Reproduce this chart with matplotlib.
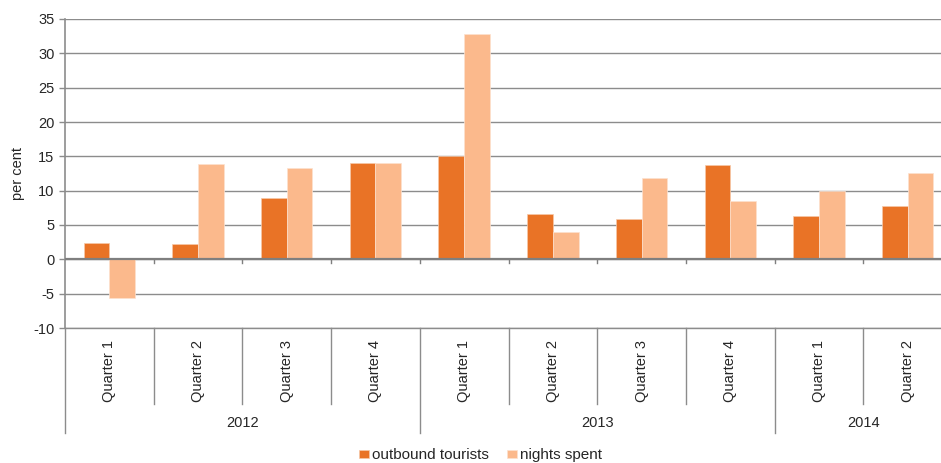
import numpy as np
import matplotlib.pyplot as plt
import matplotlib.transforms as mtransforms

plt.rcParams['font.family'] = ['Liberation Sans', 'DejaVu Sans']
plt.rcParams['axes.unicode_minus'] = False

# data
quarters = ['Quarter 1', 'Quarter 2', 'Quarter 3', 'Quarter 4',
            'Quarter 1', 'Quarter 2', 'Quarter 3', 'Quarter 4',
            'Quarter 1', 'Quarter 2']
years = ['2012', '2013', '2014']
quarters_per_year = [4, 4, 2]
outbound_tourists = [2.4, 2.3, 9.0, 14.1, 15.1, 6.6, 5.9, 13.7, 6.3, 7.8]
nights_spent = [-5.7, 13.9, 13.3, 14.0, 32.8, 4.0, 11.9, 8.5, 10.0, 12.5]

dark_orange = '#E97326'
light_orange = '#FBB98C'
grid_col = '#8C8C8C'
text_col = '#262626'
fs = 10.5

fig = plt.figure(figsize=(9.41, 4.63), dpi=100)
ax = fig.add_axes([65 / 941, 1 - 328 / 463, 887 / 941, 309 / 463])

x = np.arange(len(quarters))
w = 0.29
ax.bar(x - w / 2, outbound_tourists, w, color=dark_orange, edgecolor='#F7C9A8',
       linewidth=0.5, zorder=3, label='outbound tourists')
ax.bar(x + w / 2, nights_spent, w, color=light_orange, edgecolor='#FDE2CF',
       linewidth=0.5, zorder=3, label='nights spent')

ax.set_xlim(-0.5, len(quarters) - 0.5)
ax.set_ylim(-10, 35)
ax.set_yticks(np.arange(-10, 36, 5))
ax.yaxis.grid(True, color=grid_col, linewidth=1.0)
ax.set_axisbelow(True)
ax.set_xticks([])
ax.tick_params(axis='y', length=4, color=grid_col, labelsize=fs, labelcolor=text_col, width=1)
for s in ['top', 'right']:
    ax.spines[s].set_visible(False)
ax.spines['left'].set_color(grid_col)
ax.spines['bottom'].set_color(grid_col)
ax.spines['left'].set_linewidth(1.2)
ax.spines['bottom'].set_linewidth(1.0)
ax.set_ylabel('per cent', fontsize=fs, color=text_col, labelpad=6)

# zero line with small ticks at category boundaries
ax.axhline(0, color='#7F7F7F', linewidth=1.6, zorder=4)
bounds = np.arange(len(quarters) + 1) - 0.5
for b in bounds[1:]:
    ax.plot([b, b], [0, -0.5], color='#7F7F7F', linewidth=1.0, zorder=4, clip_on=False)

# multi-level category axis below the plot
trans = mtransforms.blended_transform_factory(ax.transData, ax.transAxes)
q_depth = -76 / 309
y_depth = -105 / 309
year_starts = np.concatenate([[0], np.cumsum(quarters_per_year)])
for b in bounds:
    depth = y_depth if (b + 0.5) in year_starts else q_depth
    ax.plot([b, b], [0, depth], color=grid_col, linewidth=1.0, transform=trans, clip_on=False)
for xi, q in zip(x, quarters):
    ax.text(xi, -12 / 309, q, rotation=90, ha='center', va='top', fontsize=fs,
            color=text_col, transform=trans)
for i, yr in enumerate(years):
    centre = (year_starts[i] + year_starts[i + 1]) / 2 - 0.5
    ax.text(centre, -95 / 309, yr, ha='center', va='center', fontsize=fs,
            color=text_col, transform=trans)

fig.legend(loc='center', bbox_to_anchor=(0.511, 0.017), ncol=2, frameon=False,
           fontsize=11, handlelength=0.65, handleheight=0.45, handletextpad=0.2,
           columnspacing=1.2, labelcolor=text_col)

fig.savefig('out.png', dpi=100)
